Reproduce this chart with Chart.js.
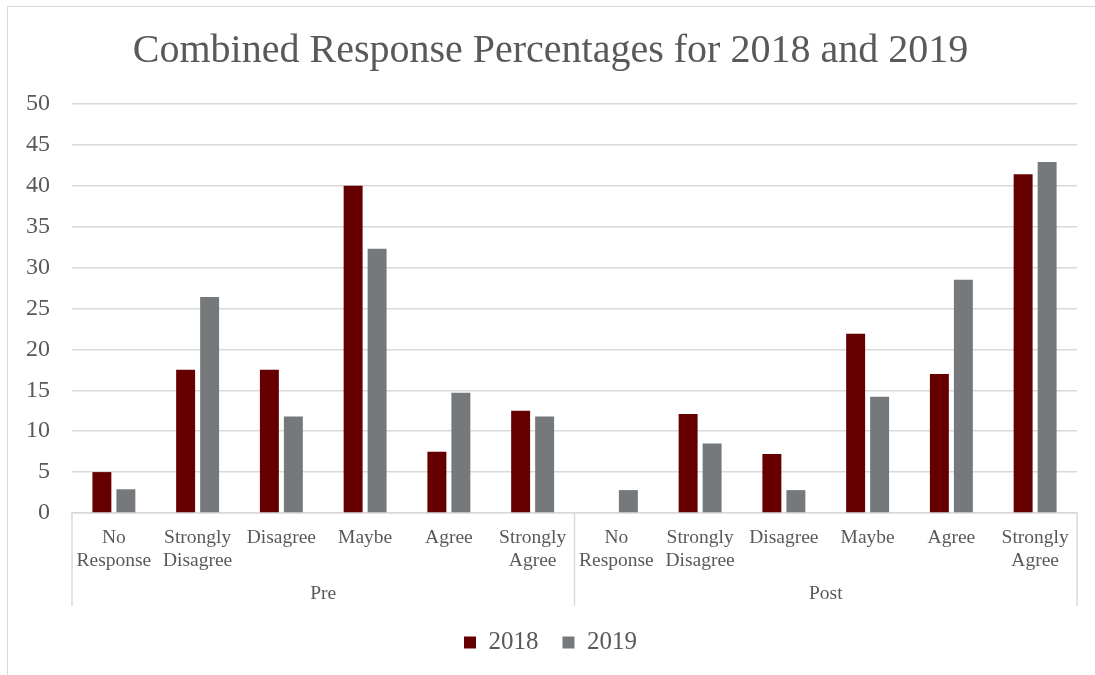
<!DOCTYPE html>
<html>
<head>
<meta charset="utf-8">
<script src="https://cdn.jsdelivr.net/npm/chart.js@4"></script>
<style>
  html, body { margin: 0; padding: 0; background: #ffffff; }
  #wrap { position: relative; width: 1095px; height: 675px; }
  #frame { position: absolute; left: 7px; top: 6px; right: -2px; bottom: -2px;
           border-top: 1.5px solid #d9d9d9; border-left: 1.5px solid #d9d9d9; pointer-events: none; }
  canvas { display: block; }
</style>
</head>
<body>
<div id="wrap">
  <canvas id="c" width="1095" height="675"></canvas>
  <div id="frame"></div>
</div>
<script>
const categories = [
  ['No', 'Response'], ['Strongly', 'Disagree'], 'Disagree', 'Maybe', 'Agree', ['Strongly', 'Agree'],
  ['No', 'Response'], ['Strongly', 'Disagree'], 'Disagree', 'Maybe', 'Agree', ['Strongly', 'Agree']
];
const groups = ['Pre', 'Post'];
const values2018 = [5.0, 17.5, 17.5, 40.0, 7.5, 12.5, 0, 12.1, 7.2, 21.9, 17.0, 41.4];
const values2019 = [2.9, 26.4, 11.8, 32.3, 14.7, 11.8, 2.8, 8.5, 2.8, 14.2, 28.5, 42.9];
const seriesNames = ['2018', '2019'];
const yTicks = { min: 0, max: 50, step: 5 };

const FONT = "'Liberation Serif', 'Times New Roman', serif";
const TEXT = '#595959';
const GRID = '#d9d9d9';

const separators = {
  id: 'separators',
  afterDraw(chart) {
    const x = chart.scales.x, x2 = chart.scales.x2;
    const ctx = chart.ctx;
    const n = categories.length;
    const half = n / 2;
    const mid = (x.getPixelForValue(half - 1) + x.getPixelForValue(half)) / 2;
    ctx.save();
    ctx.strokeStyle = GRID;
    ctx.lineWidth = 1.5;
    [x.left, mid, x.right].forEach(px => {
      ctx.beginPath();
      ctx.moveTo(px, x.top);
      ctx.lineTo(px, x2.bottom);
      ctx.stroke();
    });
    ctx.restore();
  }
};

new Chart(document.getElementById('c'), {
  type: 'bar',
  data: {
    labels: categories,
    datasets: [
      { label: seriesNames[0], data: values2018, backgroundColor: '#660000',
        categoryPercentage: 0.573, barPercentage: 0.79 },
      { label: seriesNames[1], data: values2019, backgroundColor: '#76797b',
        categoryPercentage: 0.573, barPercentage: 0.79 }
    ]
  },
  options: {
    responsive: false,
    animation: false,
    layout: { padding: { top: 0, left: 24, right: 18, bottom: 10 } },
    plugins: {
      title: {
        display: true,
        text: 'Combined Response Percentages for 2018 and 2019',
        color: TEXT,
        font: { family: FONT, size: 40, weight: 'normal' },
        padding: { top: 27.5, bottom: 28.5 }
      },
      legend: {
        position: 'bottom',
        labels: {
          color: TEXT,
          font: { family: FONT, size: 25 },
          boxWidth: 12, boxHeight: 12,
          padding: 24
        }
      },
      tooltip: { enabled: false }
    },
    scales: {
      x: {
        type: 'category',
        position: 'bottom',
        grid: { display: false, drawTicks: false },
        border: { display: true, color: GRID, width: 1.5 },
        ticks: { color: TEXT, font: { family: FONT, size: 19.5 }, padding: 13,
                 autoSkip: false, maxRotation: 0, minRotation: 0 },
        afterFit(s) { s.height = 64; }
      },
      x2: {
        type: 'category',
        position: 'bottom',
        labels: groups,
        offset: true,
        grid: { display: false, drawTicks: false },
        border: { display: false },
        ticks: { color: TEXT, font: { family: FONT, size: 19.5 }, padding: 5 },
        afterFit(s) { s.height = 29; }
      },
      y: {
        min: yTicks.min, max: yTicks.max,
        grid: { color: GRID, lineWidth: 1.5, drawTicks: false },
        border: { display: false },
        ticks: { stepSize: yTicks.step, color: TEXT, font: { family: FONT, size: 24 }, padding: 22 },
        afterFit(s) { s.width = 48; }
      }
    }
  },
  plugins: [separators]
});
</script>
</body>
</html>
